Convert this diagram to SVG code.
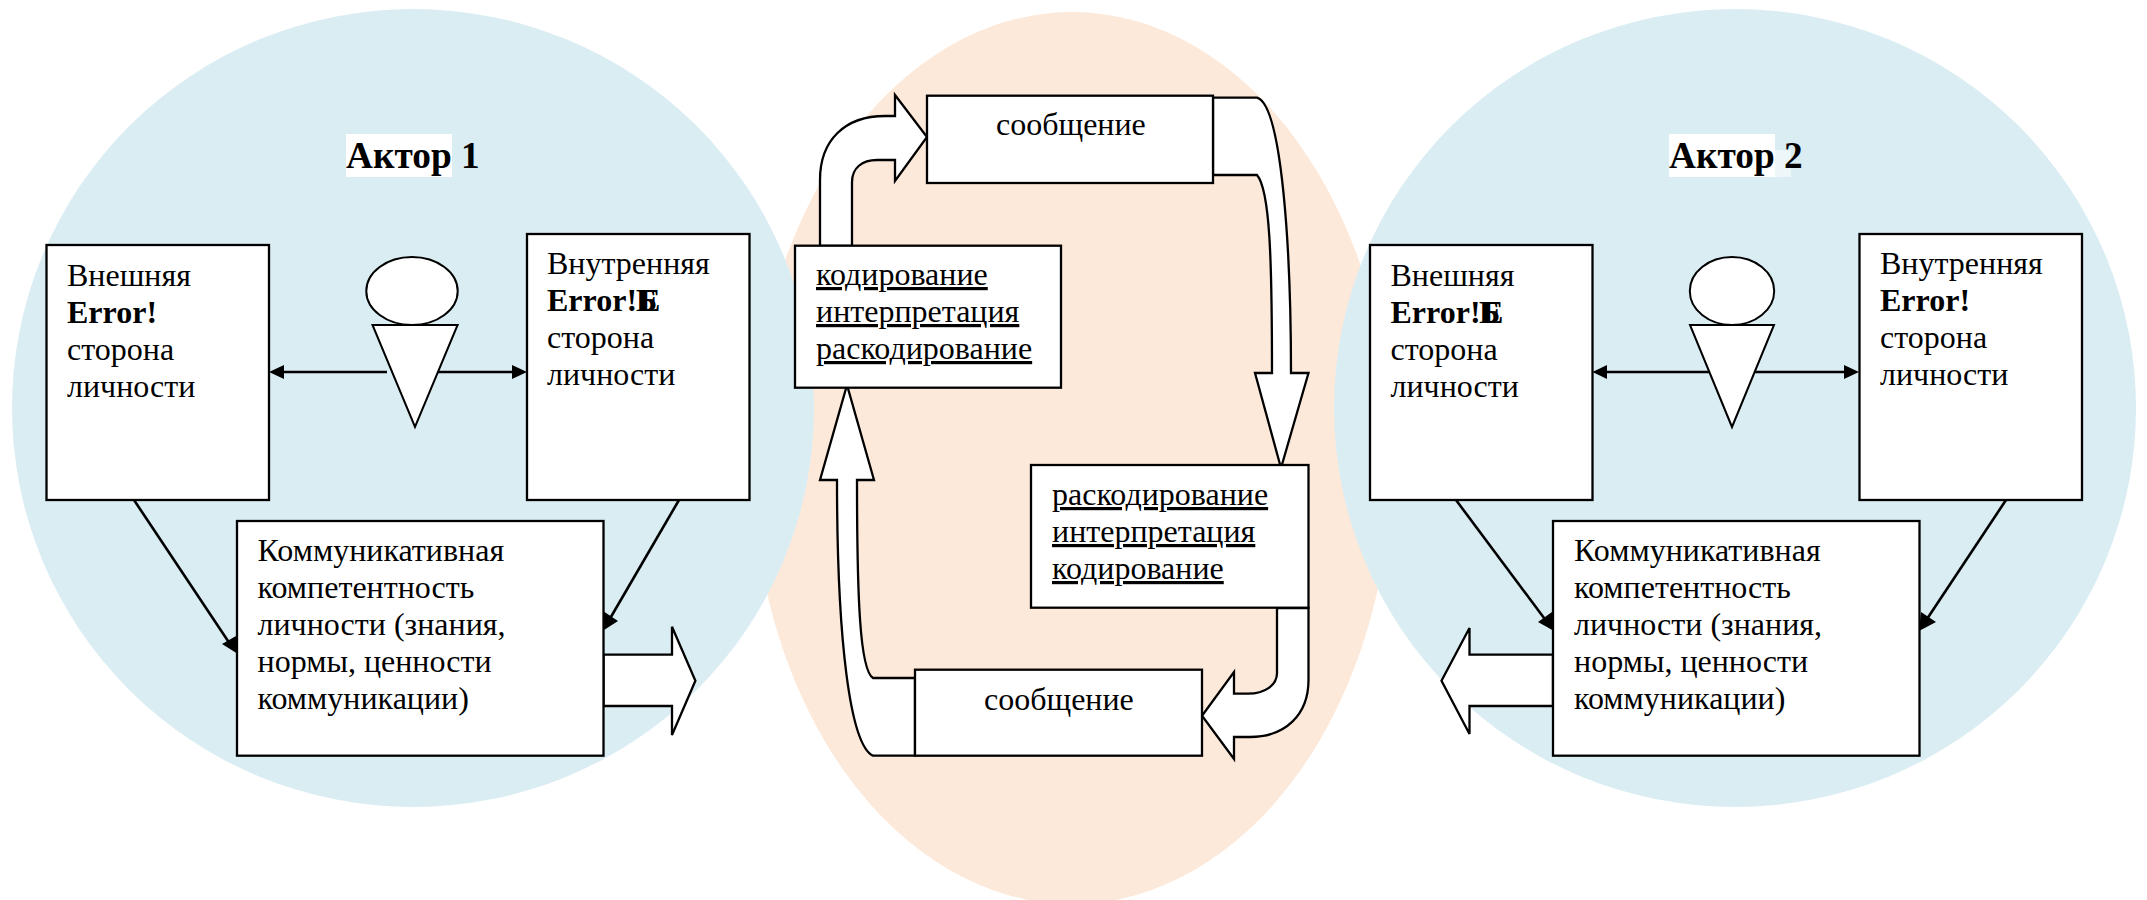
<svg xmlns="http://www.w3.org/2000/svg" width="2147" height="900" viewBox="0 0 2147 900">
<style>
text{font-family:"Liberation Serif","Times New Roman",serif;font-size:32px;fill:#000}
.b{font-weight:bold}
.h{font-weight:bold;font-size:37.3px}
.u{text-decoration:underline}
.box{fill:#fff;stroke:#000;stroke-width:2.3}
.shape{fill:#fff;stroke:#000;stroke-width:2}
.big{fill:#fff;stroke:#000;stroke-width:2.3;stroke-linejoin:miter}
.ln{fill:none;stroke:#000;stroke-width:2.6}
.hd{fill:#000}
</style>
<rect width="2147" height="900" fill="#fff"/>
<ellipse id="center-zone" cx="1072" cy="458" rx="320" ry="446" fill="#fde9da"/>
<ellipse id="actor1-zone" cx="413" cy="408" rx="401" ry="399" fill="#daedf3"/>
<ellipse id="actor2-zone" cx="1735" cy="408" rx="401" ry="399" fill="#daedf3"/>
<g id="connectors">
<path class="ln" d="M283 372H387M435 372H513"/>
<polygon class="hd" points="269,372 284,365 284,379"/><polygon class="hd" points="527,372 512,365 512,379"/>
<path class="ln" d="M1606 372H1710M1755 372H1845"/>
<polygon class="hd" points="1592.500,372 1607,365 1607,379"/><polygon class="hd" points="1859,372 1844,365 1844,379"/>
<path class="ln" d="M134 500L230 644"/><polygon class="hd" points="238,654 222,644 236,636"/>
<path class="ln" d="M679 500L608 622"/><polygon class="hd" points="601,632 603,611 618,621"/>
<path class="ln" d="M1456 500L1547 622"/><polygon class="hd" points="1554,631 1538,622 1552,612"/>
<path class="ln" d="M2006 500L1925 622"/><polygon class="hd" points="1919,631 1921,612 1936,622"/>
<path class="big" d="M603.500 654.700H672V626.700L695.400 680.700L672 735V706H603.500Z"/>
<path class="big" d="M1553 654.700H1469.500V628L1441.500 680.700L1469.500 734V706H1553Z"/>
<path class="big" d="M820 246V180C820 140 845 116 885 116H895V95L927 137L895 181V160H877C862 160 852 168 852 182V246Z"/>
<path class="big" d="M1213 97.700H1257C1282 105 1291 250 1291 373H1308.500L1281 468L1255 373H1272C1272 260 1270 190 1257 175H1213Z"/>
<path class="big" d="M1277 608V673C1277 685 1265 693.700 1248 693.700H1234V672L1202 715.700L1234 759V737H1250C1285 737 1308.500 715 1308.500 680V608Z"/>
<path class="big" d="M915 678H873C860 670 857 600 857 480H874L847 385L820 480H837C837 640 850 745 873 755.700H915Z"/>
</g>
<g id="actor1-title"><rect x="346" y="134" width="106" height="43" fill="#fff"/><text class="h" x="346" y="168">Актор 1</text></g>
<g id="actor1-figure"><ellipse class="shape" cx="412" cy="291" rx="45.700" ry="34"/><polygon class="shape" points="372.500,325 457.600,325 415,427"/></g>
<g id="actor1-outer"><rect class="box" x="46.500" y="245" width="222.500" height="255"/>
<text x="67" y="286">Внешняя</text><text class="b" x="67" y="323">Error!</text><text x="67" y="360">сторона</text><text x="67" y="397">личности</text></g>
<g id="actor1-inner"><rect class="box" x="527" y="234" width="222.500" height="266"/>
<text x="547" y="274">Внутренняя</text><text class="b" x="547" y="311">Error!</text><text class="b" x="636" y="311">Б</text><text class="b" x="639" y="311">E</text><text x="547" y="348">сторона</text><text x="547" y="385">личности</text></g>
<g id="actor1-competence"><rect class="box" x="237" y="521" width="366.500" height="234.700"/>
<text x="257.500" y="561">Коммуникативная</text><text x="257.500" y="598">компетентность</text><text x="257.500" y="635">личности (знания,</text><text x="257.500" y="672">нормы, ценности</text><text x="257.500" y="709">коммуникации)</text></g>
<g id="message-top"><rect class="box" x="927" y="95.700" width="286" height="87.300"/><text x="996" y="135">сообщение</text></g>
<g id="coding-left"><rect class="box" x="795" y="245.700" width="266" height="142"/>
<text class="u" x="816" y="285">кодирование</text><text class="u" x="816" y="322">интерпретация</text><text class="u" x="816" y="359">раскодирование</text></g>
<g id="coding-right"><rect class="box" x="1031" y="465" width="277.500" height="142.700"/>
<text class="u" x="1052" y="505">раскодирование</text><text class="u" x="1052" y="542">интерпретация</text><text class="u" x="1052" y="579">кодирование</text></g>
<g id="message-bottom"><rect class="box" x="915" y="669.700" width="287" height="86"/><text x="984" y="710">сообщение</text></g>
<g id="actor2-title"><rect x="1669" y="134" width="106" height="43" fill="#fff"/><rect x="1775" y="150" width="16" height="27" fill="#fff" fill-opacity=".5"/><text class="h" x="1669" y="168">Актор 2</text></g>
<g id="actor2-figure"><ellipse class="shape" cx="1732" cy="291" rx="42.200" ry="34"/><polygon class="shape" points="1690,325 1774,325 1732,427"/></g>
<g id="actor2-outer"><rect class="box" x="1370" y="245" width="222.500" height="255"/>
<text x="1390.500" y="286">Внешняя</text><text class="b" x="1390.500" y="323">Error!</text><text class="b" x="1479" y="323">Б</text><text class="b" x="1482" y="323">E</text><text x="1390.500" y="360">сторона</text><text x="1390.500" y="397">личности</text></g>
<g id="actor2-inner"><rect class="box" x="1859.500" y="234" width="222.500" height="266"/>
<text x="1880" y="274">Внутренняя</text><text class="b" x="1880" y="311">Error!</text><text x="1880" y="348">сторона</text><text x="1880" y="385">личности</text></g>
<g id="actor2-competence"><rect class="box" x="1553" y="521" width="366.500" height="234.700"/>
<text x="1574" y="561">Коммуникативная</text><text x="1574" y="598">компетентность</text><text x="1574" y="635">личности (знания,</text><text x="1574" y="672">нормы, ценности</text><text x="1574" y="709">коммуникации)</text></g>
</svg>
